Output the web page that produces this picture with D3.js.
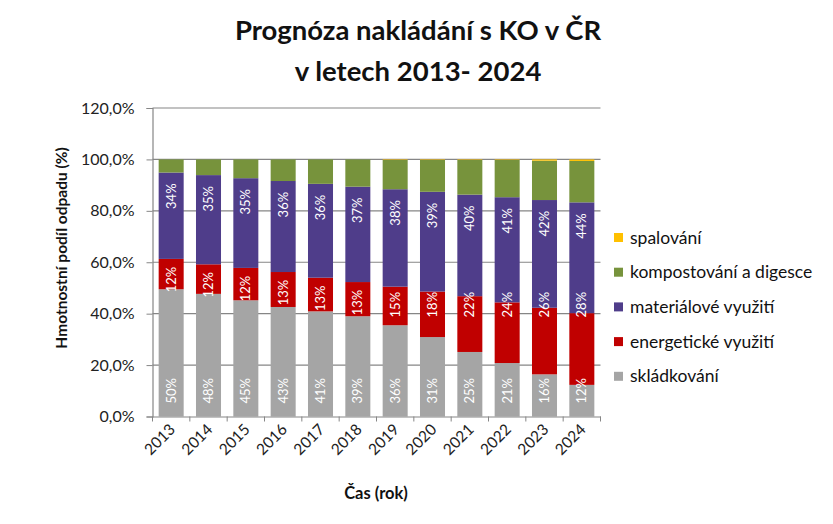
<!DOCTYPE html>
<html><head><meta charset="utf-8">
<script src="https://cdn.jsdelivr.net/npm/d3@7"></script>
<style>body{margin:0;background:#fff}svg{display:block}text{font-family:Lato,"Open Sans",sans-serif}</style>
</head><body><svg id="c" width="833" height="524"></svg>
<script>
const years = ["2013","2014","2015","2016","2017","2018","2019","2020","2021","2022","2023","2024"];
const skladkovani = [49.5,47.7,45.2,42.6,40.9,39.0,35.5,30.9,25.1,20.8,16.4,12.3];
const energeticke = [11.8,11.5,12.6,13.6,13.1,13.3,15.0,17.7,21.7,23.6,25.9,27.9];
const materialove = [33.6,34.7,34.9,35.4,36.5,37.1,37.9,38.8,39.5,40.9,41.9,43.1];
const kompostovani = [5.1,6.1,7.3,8.4,9.5,10.6,11.4,12.4,13.5,14.5,15.3,16.1];
const spalovani = [0,0,0,0,0,0,0.2,0.2,0.2,0.2,0.5,0.6];
const labSklad = ["50%","48%","45%","43%","41%","39%","36%","31%","25%","21%","16%","12%"];
const labEnerg = ["12%","12%","12%","13%","13%","13%","15%","18%","22%","24%","26%","28%"];
const labMater = ["34%","35%","35%","36%","36%","37%","38%","39%","40%","41%","42%","44%"];
const yTicks = [0,20,40,60,80,100,120];
const seriesNames = ["skládkování","energetické využití","materiálové využití","kompostování a digesce","spalování"];
const colors = ["#A5A5A5","#C00000","#4F3D8A","#77933C","#FFC000"];

const svg = d3.select("#c");
const M = {l:152.5, r:600.5, t:108, b:416.5};
const x = d3.scaleBand().domain(years).range([M.l, M.r]).paddingInner(0.33).paddingOuter(0.165);
const y = d3.scaleLinear().domain([0,120]).range([M.b, M.t]);

const rows = years.map((yr,i)=>({year:yr, s0:skladkovani[i], s1:energeticke[i], s2:materialove[i], s3:kompostovani[i], s4:spalovani[i]}));
const stack = d3.stack().keys(["s0","s1","s2","s3","s4"])(rows);

// gridlines
svg.append("g").selectAll("line").data(yTicks.filter(d=>d>0)).join("line")
  .attr("x1",M.l).attr("x2",M.r).attr("y1",d=>y(d)).attr("y2",d=>y(d))
  .attr("stroke","#868686").attr("stroke-width",1.2);

// bars
svg.append("g").selectAll("g").data(stack).join("g").attr("fill",(d,i)=>colors[i])
  .selectAll("rect").data(d=>d).join("rect")
  .attr("x",d=>x(d.data.year)).attr("width",x.bandwidth())
  .attr("y",d=>y(d[1])).attr("height",d=>Math.max(0,y(d[0])-y(d[1])));

// axes
const yAx = svg.append("g").attr("transform",`translate(${M.l},0)`)
  .call(d3.axisLeft(y).tickValues(yTicks).tickSize(6).tickPadding(12).tickFormat(d=>d.toFixed(1).replace(".",",")+"%"));
yAx.select(".domain").attr("stroke","#868686").attr("stroke-width",1.2);
yAx.selectAll(".tick line").attr("stroke","#868686");
yAx.selectAll("text").attr("font-size",16).attr("fill","#222");

const xAx = svg.append("g").attr("transform",`translate(0,${M.b})`)
  .call(d3.axisBottom(x).tickSize(0).tickPadding(0));
xAx.select(".domain").attr("stroke","#868686").attr("stroke-width",1.2);
xAx.selectAll("text").remove();
const bounds = years.map(d=>x(d)-x.step()*x.paddingInner()/2).concat([M.r]);
svg.append("g").selectAll("line").data(bounds).join("line")
  .attr("x1",d=>d).attr("x2",d=>d).attr("y1",M.b).attr("y2",M.b+5).attr("stroke","#868686");
svg.append("g").selectAll("text").data(years).join("text")
  .attr("transform",d=>`translate(${x(d)+x.bandwidth()/2+5},${M.b+14}) rotate(-45)`)
  .attr("text-anchor","end").attr("font-size",15.5).attr("fill","#222").text(d=>d);

// labels
const lab = svg.append("g").attr("fill","#fff").attr("font-size",13).attr("text-anchor","middle");
years.forEach((yr,i)=>{
  const cx = x(yr)+x.bandwidth()/2;
  const items = [
    [labSklad[i], 10],
    [labEnerg[i], Math.max(skladkovani[i]+energeticke[i]-8, 43.5)],
    [labMater[i], skladkovani[i]+energeticke[i]+materialove[i]-9.2]
  ];
  items.forEach(([t,v])=>{
    lab.append("text").attr("transform",`translate(${cx+4.5},${y(v)}) rotate(-90)`).text(t);
  });
});

// titles
svg.append("text").attr("x",418).attr("y",40).attr("text-anchor","middle").attr("font-size",27.5).attr("font-weight","bold").attr("fill","#111").text("Prognóza nakládání s KO v ČR");
svg.append("text").attr("x",418).attr("y",81).attr("text-anchor","middle").attr("font-size",27.5).attr("font-weight","bold").attr("fill","#111").text("v letech 2013- 2024");
svg.append("text").attr("x",376).attr("y",499).attr("text-anchor","middle").attr("font-size",16.5).attr("font-weight","bold").attr("fill","#111").text("Čas (rok)");
svg.append("text").attr("transform","translate(67,248) rotate(-90)").attr("text-anchor","middle").attr("font-size",15.5).attr("font-weight","bold").attr("fill","#111").text("Hmotnostní podíl odpadu (%)");

// legend
const legOrder = [4,3,2,1,0];
const leg = svg.append("g").selectAll("g").data(legOrder).join("g")
  .attr("transform",(d,i)=>`translate(614,${238+i*34.7})`);
leg.append("rect").attr("x",0).attr("y",-5).attr("width",9).attr("height",9).attr("fill",d=>colors[d]);
leg.append("text").attr("x",16).attr("y",5.5).attr("font-size",17.5).attr("fill","#111").text(d=>seriesNames[d]);
</script></body></html>
